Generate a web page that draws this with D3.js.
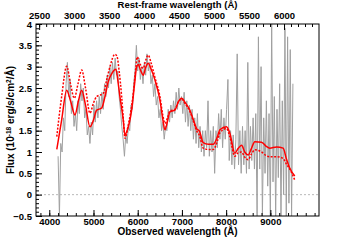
<!DOCTYPE html>
<html>
<head>
<meta charset="utf-8">
<script src="https://cdn.jsdelivr.net/npm/d3@7"></script>
<style>
  body { margin: 0; background: #fff; }
  svg text { font-family: "Liberation Sans", Arial, sans-serif; font-weight: bold; fill: #000; }
</style>
</head>
<body>
<div id="chart"></div>
<script>
// observed-frame grid of the noisy spectrum (start, step in Angstrom)
const specStart = 4200;
const specStep = 30;
const specFlux = [
  0.9, -0.5, 1.2, 1.0, 1.8, 1.5, 2.6, 3.1, 2.3, 2.7, 1.9, 2.2, 1.6, 1.9, 1.5, 2.2,
  1.9, 2.6, 2.2, 2.5, 1.8, 2.0, 1.4, 1.6, 1.2, 1.7, 1.4, 2.1, 1.7, 2.2, 1.8, 2.3,
  1.9, 2.4, 2.0, 2.6, 2.3, 2.8, 2.5, 3.0, 2.6, 3.1, 2.7, 3.2, 2.8, 2.9, 2.3, 2.0,
  1.6, 1.3, 0.9, 1.4, 1.2, 1.6, 1.5, 2.1, 2.0, 2.6, 2.9, 3.5, 2.9, 3.2, 2.7, 3.0,
  2.6, 3.1, 2.8, 3.3, 2.9, 3.1, 2.6, 2.8, 2.3, 2.6, 2.1, 2.3, 1.8, 2.0, 1.5, 1.7,
  1.3, 1.6, 1.5, 2.0, 1.7, 2.1, 1.8, 2.2, 1.9, 2.4, 2.0, 2.5, 2.1, 2.3, 1.9, 2.4,
  1.7, 2.2, 1.6, 2.1, 1.5, 2.0, 1.3, 1.8, 1.2, 1.9, 1.1,
  1.6, 1.0, 1.5, 0.9, 1.5, 1.1, 2.2, 0.9, 1.5, 1.0, 1.6, 0.5, 1.5, 1.1, 1.9, 1.3,
  2.0, 1.1, 1.8, 1.3, 2.0, 2.7, 0.8, 1.5, 0.7, 1.4, 0.6, 1.3, 3.3, 0.7, 1.5, 0.5,
  1.6, 0.7, 1.5, 0.5, 3.1, 0.6, 1.6, 0.8, 1.8, 0.6, 1.9, -0.5, 3.7, 0.6, 3.0, -0.5,
  1.8, 0.5, 2.2, 0.2, 1.9, -0.5, 4.0, 0.3, 2.3, -0.5, 2.0, 0.4, 2.6, -0.5, 2.2, 0.0,
  3.9, -0.5, 3.7, -0.2, 3.4, -0.5, 2.6
];

// model 1 (solid)
const modelAWave = [4170, 4280, 4394, 4480, 4581, 4660, 4733, 4820, 4920, 5000, 5072, 5185,
  5260, 5334, 5420, 5508, 5560, 5598, 5673, 5711, 5760, 5863, 5930, 5976, 6012, 6070,
  6125, 6180, 6238, 6300, 6389, 6502, 6570, 6615, 6680, 6728, 6841, 6920, 6993, 7080,
  7180, 7260, 7332, 7400, 7481, 7600, 7707, 7800, 7858, 8010, 8084, 8197, 8270, 8349,
  8420, 8498, 8570, 8649, 8801, 8900, 8988, 9140, 9289, 9360, 9440, 9553];
const modelAFlux = [1.06, 1.75, 2.45, 2.2, 1.87, 2.2, 2.45, 2.1, 1.59, 1.75, 1.98, 2.03,
  2.3, 2.65, 2.85, 2.94, 2.6, 2.3, 1.75, 1.40, 1.5, 1.98, 2.6, 3.0, 3.05, 2.9,
  2.80, 2.98, 3.08, 2.95, 2.69, 2.22, 1.75, 1.52, 1.75, 1.94, 1.98, 2.18, 2.26, 2.15,
  1.98, 1.75, 1.55, 1.48, 1.22, 1.18, 1.18, 1.35, 1.52, 1.59, 1.44, 0.97, 1.08, 1.16,
  1.0, 0.93, 1.08, 1.24, 1.23, 1.14, 1.09, 1.12, 1.09, 0.85, 0.62, 0.44];

// model 2 (dotted)
const modelBWave = [4170, 4280, 4394, 4480, 4566, 4650, 4733, 4820, 4920, 5000, 5072, 5221,
  5300, 5372, 5485, 5530, 5580, 5637, 5680, 5711, 5780, 5899, 5960, 5989, 6060, 6125,
  6180, 6238, 6300, 6389, 6502, 6570, 6615, 6680, 6728, 6841, 6920, 6993, 7080, 7180,
  7260, 7332, 7400, 7481, 7600, 7707, 7800, 7858, 8010, 8084, 8197, 8270, 8349, 8420,
  8498, 8570, 8649, 8801, 8900, 8988, 9140, 9289, 9360, 9440, 9553];
const modelBFlux = [1.36, 2.3, 3.01, 2.6, 2.26, 2.6, 2.92, 2.5, 1.91, 2.15, 2.3, 2.37,
  2.7, 3.0, 3.29, 3.25, 2.9, 2.3, 1.7, 1.32, 1.6, 2.37, 3.0, 3.23, 3.05, 2.96,
  3.15, 3.27, 3.1, 2.75, 2.3, 1.85, 1.67, 1.82, 1.96, 2.0, 2.17, 2.24, 2.12, 1.95,
  1.72, 1.5, 1.38, 1.09, 1.06, 1.06, 1.25, 1.45, 1.55, 1.35, 0.9, 0.98, 1.0, 0.88,
  0.82, 0.95, 1.05, 1.0, 0.92, 0.89, 0.89, 0.85, 0.72, 0.6, 0.34];

const obsTicks = [4000, 5000, 6000, 7000, 8000, 9000];
const restTicks = [2500, 3000, 3500, 4000, 4500, 5000, 5500, 6000];
const fluxTicks = [-0.5, 0, 0.5, 1, 1.5, 2, 2.5, 3, 3.5, 4];

const W = 355, H = 240;
const plot = { left: 36, right: 319, top: 24, bottom: 216 };

const svg = d3.select('#chart').append('svg')
  .attr('width', W).attr('height', H);

const x = d3.scaleLinear().domain([3700, 10100]).range([plot.left, plot.right]);
const xRest = d3.scaleLinear().domain([2455, 6500]).range([plot.left, plot.right]);
const y = d3.scaleLinear().domain([-0.5, 4]).range([plot.bottom, plot.top]);

svg.append('clipPath').attr('id', 'clip')
  .append('rect')
  .attr('x', plot.left).attr('y', plot.top)
  .attr('width', plot.right - plot.left).attr('height', plot.bottom - plot.top);

const data = svg.append('g').attr('clip-path', 'url(#clip)');

// zero level
data.append('line')
  .attr('x1', plot.left).attr('x2', plot.right)
  .attr('y1', y(0)).attr('y2', y(0))
  .attr('stroke', '#999').attr('stroke-width', 0.7)
  .attr('stroke-dasharray', '2,2');

const spec = specFlux.map((f, i) => [specStart + i * specStep, f]);
const line = d3.line().x(d => x(d[0])).y(d => y(d[1]));

data.append('path')
  .datum(spec)
  .attr('d', line)
  .attr('fill', 'none')
  .attr('stroke', '#a0a0a0')
  .attr('stroke-width', 1)
  .attr('stroke-linejoin', 'round');

const curve = d3.line().curve(d3.curveMonotoneX).x(d => x(d[0])).y(d => y(d[1]));

data.append('path')
  .datum(modelAWave.map((w, i) => [w, modelAFlux[i]]))
  .attr('d', curve)
  .attr('fill', 'none')
  .attr('stroke', '#ff0000')
  .attr('stroke-width', 1.5);

data.append('path')
  .datum(modelBWave.map((w, i) => [w, modelBFlux[i]]))
  .attr('d', curve)
  .attr('fill', 'none')
  .attr('stroke', '#ff0000')
  .attr('stroke-width', 1.5)
  .attr('stroke-dasharray', '2,1.5');

// frame
svg.append('rect')
  .attr('x', plot.left).attr('y', plot.top)
  .attr('width', plot.right - plot.left).attr('height', plot.bottom - plot.top)
  .attr('fill', 'none').attr('stroke', '#000').attr('stroke-width', 1);

function styleAxis(g) {
  g.select('.domain').remove();
  g.selectAll('.tick line').attr('stroke', '#000');
  g.selectAll('.tick text').style('font-size', '9.5px');
}

// bottom axis: majors + minors
svg.append('g')
  .attr('transform', `translate(0,${plot.bottom})`)
  .call(d3.axisBottom(x).tickValues(d3.range(3800, 10100, 200)).tickSize(-3).tickFormat(''))
  .call(styleAxis);
svg.append('g')
  .attr('transform', `translate(0,${plot.bottom})`)
  .call(d3.axisBottom(x).tickValues(obsTicks).tickSize(-6).tickPadding(2).tickFormat(d3.format('d')))
  .call(styleAxis);

// top axis (rest frame)
svg.append('g')
  .attr('transform', `translate(0,${plot.top})`)
  .call(d3.axisTop(xRest).tickValues(d3.range(2500, 6500, 100)).tickSize(-3).tickFormat(''))
  .call(styleAxis);
svg.append('g')
  .attr('transform', `translate(0,${plot.top})`)
  .call(d3.axisTop(xRest).tickValues(restTicks).tickSize(-6).tickPadding(5).tickFormat(d3.format('d')))
  .call(styleAxis);

// left axis
svg.append('g')
  .attr('transform', `translate(${plot.left},0)`)
  .call(d3.axisLeft(y).tickValues(d3.range(-0.4, 4, 0.1)).tickSize(-3).tickFormat(''))
  .call(styleAxis);
svg.append('g')
  .attr('transform', `translate(${plot.left},0)`)
  .call(d3.axisLeft(y).tickValues(fluxTicks).tickSize(-6).tickPadding(4).tickFormat(d3.format('')))
  .call(styleAxis);

// titles
svg.append('text')
  .attr('x', (plot.left + plot.right) / 2).attr('y', 8)
  .attr('text-anchor', 'middle').style('font-size', '9.5px')
  .text('Rest-frame wavelength (Å)');

svg.append('text')
  .attr('x', (plot.left + plot.right) / 2).attr('y', 235)
  .attr('text-anchor', 'middle').style('font-size', '10px')
  .text('Observed wavelength (Å)');

const yl = svg.append('text')
  .attr('transform', `translate(14,${(plot.top + plot.bottom) / 2}) rotate(-90)`)
  .attr('text-anchor', 'middle').style('font-size', '10px');
yl.append('tspan').text('Flux (10');
yl.append('tspan').attr('baseline-shift', '40%').style('font-size', '6.5px').text('-18');
yl.append('tspan').text(' erg/s/cm');
yl.append('tspan').attr('baseline-shift', '40%').style('font-size', '6.5px').text('2');
yl.append('tspan').text('/Å)');
</script>
</body>
</html>
